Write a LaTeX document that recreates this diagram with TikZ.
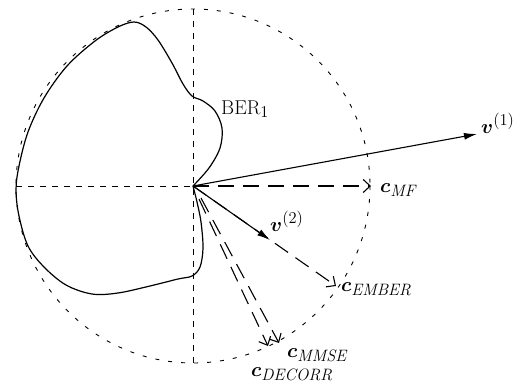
\RequirePackage{fix-cm}
\documentclass[tikz,border=0pt]{standalone}
\usepackage{amsmath,bm}
\usetikzlibrary{arrows.meta}
\DeclareMathSizes{20}{20}{16.5}{12}
\begin{document}
\begin{tikzpicture}[x=1pt,y=-1pt,
  axis/.style={line width=0.9pt, dash pattern=on 6pt off 6pt},
  circ/.style={line width=0.9pt, dash pattern=on 4pt off 9pt},
  vec/.style={line width=1.1pt, -{Latex[length=13pt,width=7pt]}},
  proj/.style={line width=1.1pt, dash pattern=on 16pt off 9pt, -{Straight Barb[length=7pt,width=13pt,line width=1.1pt]}},
  lbl/.style={font=\fontsize{20}{24}\selectfont, inner sep=0pt},
  curve/.style={line width=1.2pt}]
\useasboundingbox (0,0) rectangle (516,385);
% axes and unit circle
\coordinate (O) at (193,186);
\coordinate (top) at (193,9);
\coordinate (bot) at (193,363);
\coordinate (left) at (16,186);
\draw[circ] (O) circle[radius=177];
\draw[axis] (top) -- (bot);
\draw[axis] (left) -- (O);
% BER curve
\draw[curve] plot[smooth, tension=0.55] coordinates {
 (193,186) (209,168) (220,148) (222,128) (215,111) (203,101) (192,96)
 (183,84) (172,63) (158,40) (146,27) (134,22) (118,27) (95,41) (67,66)
 (44,98) (28,132) (19,166) (16,190) (19,216) (28,246) (44,267) (66,285)
 (92,294) (118,293) (150,286) (178,279) (192,276) (200,267) (203,248)
 (201,222) (197,202) (193,186)};
% tips
\coordinate (v1tip) at (477,134);
\coordinate (mftip) at (371,186);
\coordinate (embtip) at (336,286);
\coordinate (v2tip) at (270,240);
\coordinate (s1) at (199,199);
\coordinate (s2) at (201,198);
\coordinate (dectip) at (268,346);
\coordinate (mmsetip) at (279,343);
% projections
\draw[proj] (O) -- (mftip);
\draw[proj] (O) -- (embtip);
\draw[proj] (s1) -- (dectip);
\draw[proj] (s2) -- (mmsetip);
% vectors
\draw[vec] (O) -- (v1tip);
\draw[vec] (O) -- (v2tip);
% labels
\node[lbl, anchor=base west] (lv1) at (481,133) {$\bm{v}^{(1)}$};
\node[lbl, anchor=base west] (lv2) at (270,231) {$\bm{v}^{(2)}$};
\node[lbl, anchor=base west] (lber) at (221,114) {$\mathrm{BER}_1$};
\node[lbl, anchor=base west] (lmf) at (380,192) {$\bm{c}_{\mathit{MF}}$};
\node[lbl, anchor=base west] (lemb) at (341,291) {$\bm{c}_{\mathit{EMBER}}$};
\node[lbl, anchor=base west] (lmmse) at (287,357) {$\bm{c}_{\mathit{MMSE}}$};
\node[lbl, anchor=base west] (ldec) at (251,376) {$\bm{c}_{\mathit{DECORR}}$};
\end{tikzpicture}
\end{document}
